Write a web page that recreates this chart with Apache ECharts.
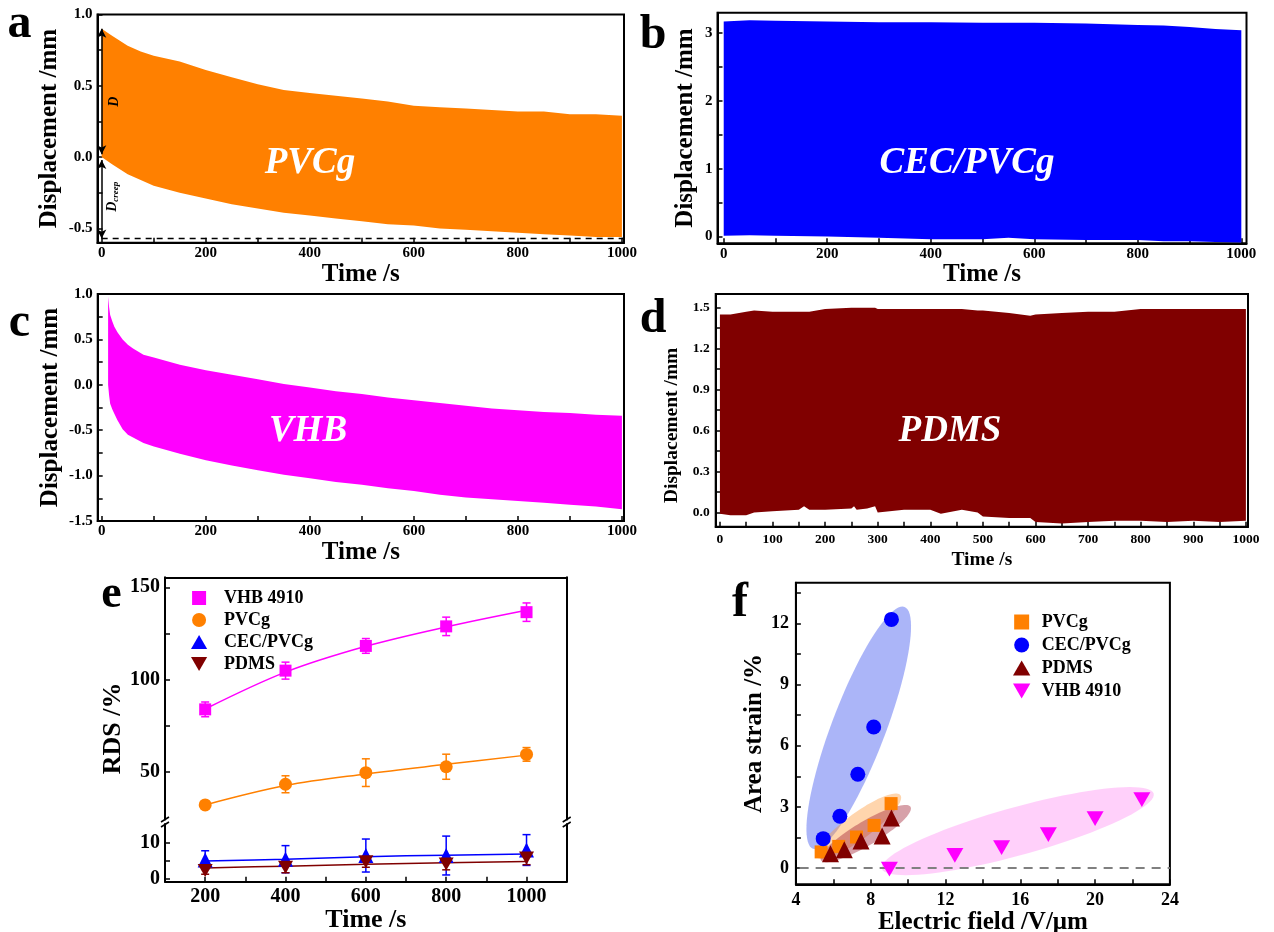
<!DOCTYPE html>
<html><head><meta charset="utf-8">
<script src="https://cdn.jsdelivr.net/npm/echarts@6/dist/echarts.min.js"></script>
<style>html,body{margin:0;padding:0;background:#fff}#main{width:1274px;height:932px}</style>
</head><body><div id="main"></div>
<script>
// ---------- Panel a: PVCg displacement envelope ----------
const tA  = [0, 20, 50, 75, 100, 150, 200, 250, 300, 350, 400, 450, 500, 550, 600, 650, 700, 750, 800, 850, 900, 950, 1000];
const upA = [0.90, 0.85, 0.78, 0.74, 0.71, 0.67, 0.61, 0.56, 0.51, 0.47, 0.45, 0.43, 0.41, 0.39, 0.36, 0.35, 0.34, 0.33, 0.32, 0.32, 0.30, 0.30, 0.29];
const loA = [0.00, -0.05, -0.12, -0.16, -0.20, -0.25, -0.29, -0.33, -0.36, -0.39, -0.41, -0.43, -0.45, -0.47, -0.48, -0.50, -0.51, -0.52, -0.53, -0.54, -0.55, -0.56, -0.56];
const creepLevelA = -0.57;
const dTopA = 0.9;

// ---------- Panel b: CEC/PVCg ----------
const tB  = [0, 50, 100, 200, 300, 400, 500, 550, 600, 700, 800, 850, 900, 950, 1000];
const upB = [3.17, 3.19, 3.18, 3.17, 3.16, 3.16, 3.15, 3.15, 3.15, 3.14, 3.12, 3.11, 3.09, 3.06, 3.04];
const loB = [0.01, 0.02, 0.01, 0.00, -0.02, -0.04, -0.04, -0.02, -0.04, -0.05, -0.05, -0.07, -0.07, -0.08, -0.09];

// ---------- Panel c: VHB ----------
const tC  = [12, 14, 16, 20, 24, 30, 40, 50, 60, 80, 100, 150, 200, 250, 300, 350, 400, 450, 500, 550, 600, 650, 700, 750, 800, 850, 900, 950, 1000];
const upC = [0.97, 0.85, 0.77, 0.70, 0.64, 0.58, 0.50, 0.44, 0.40, 0.33, 0.30, 0.22, 0.16, 0.11, 0.06, 0.01, -0.03, -0.07, -0.10, -0.14, -0.17, -0.20, -0.23, -0.26, -0.28, -0.30, -0.31, -0.33, -0.34];
const loC = [0.00, -0.12, -0.21, -0.27, -0.32, -0.39, -0.49, -0.55, -0.58, -0.64, -0.68, -0.76, -0.83, -0.89, -0.94, -0.99, -1.03, -1.07, -1.10, -1.14, -1.17, -1.21, -1.24, -1.26, -1.28, -1.30, -1.32, -1.34, -1.37];

// ---------- Panel d: PDMS ----------
const tD  = [0, 20, 50, 65, 100, 150, 160, 170, 200, 250, 255, 260, 280, 295, 300, 350, 400, 420, 460, 490, 500, 550, 590, 600, 650, 700, 750, 800, 850, 900, 950, 1000];
const upD = [1.45, 1.45, 1.47, 1.48, 1.47, 1.47, 1.47, 1.47, 1.49, 1.50, 1.50, 1.50, 1.50, 1.50, 1.49, 1.49, 1.49, 1.49, 1.49, 1.48, 1.48, 1.46, 1.44, 1.45, 1.46, 1.47, 1.47, 1.49, 1.49, 1.49, 1.49, 1.49];
const loD = [-0.01, -0.02, -0.02, 0.00, 0.01, 0.02, 0.045, 0.02, 0.02, 0.03, 0.045, 0.02, 0.03, 0.045, 0.00, 0.02, 0.02, -0.01, 0.02, 0.00, -0.03, -0.04, -0.04, -0.07, -0.08, -0.07, -0.06, -0.06, -0.07, -0.06, -0.07, -0.06];

// ---------- Panel e: RDS vs time ----------
const eTime   = [200, 400, 600, 800, 1000];
const eVHB    = [83.8, 104.8, 118.2, 128.8, 136.5];
const eVHBErr = [4.0, 4.6, 4.0, 5.0, 5.0];
const eVHBFit = [84, 104, 118, 128.5, 137.5];
const ePVCg    = [32, 43.2, 49.5, 52.7, 59.4];
const ePVCgErr = [1.0, 4.6, 7.5, 6.8, 3.7];
const ePVCgFit = [32, 42.5, 48.8, 54, 59];
const eCEC    = [5.2, 5.4, 6.4, 6.4, 7.9];
const eCECErr = [2.5, 3.7, 4.5, 5.3, 4.2];
const eCECFit = [4.9, 5.4, 6.1, 6.5, 6.8];
const ePDMS    = [2.3, 3.2, 4.7, 4.1, 5.7];
const ePDMSErr = [1.0, 1.5, 1.5, 1.6, 1.8];
const ePDMSFit = [3.0, 3.5, 4.0, 4.4, 4.8];

// ---------- Panel f: area strain vs electric field ----------
const fPVCgX = [5.35, 6.29, 7.24, 8.18, 9.09];
const fPVCgY = [0.79, 1.06, 1.52, 2.09, 3.16];
const fCECX  = [5.46, 6.35, 7.31, 8.16, 9.11];
const fCECY  = [1.44, 2.54, 4.60, 6.92, 12.2];
const fPDMSX = [5.85, 6.59, 7.48, 8.61, 9.11];
const fPDMSY = [0.70, 0.90, 1.33, 1.57, 2.45];
const fVHBX  = [9.0, 12.5, 15.0, 17.5, 20.0, 22.5];
const fVHBY  = [-0.05, 0.62, 1.0, 1.64, 2.42, 3.36];
// grouping ellipses: ends of the long axis in data units
const ellipseNames = ['CEC/PVCg', 'PVCg', 'PDMS', 'VHB 4910'];
const ellX1 = [4.91, 5.12, 5.34, 8.6];
const ellY1 = [0.95, 0.54, 0.38, -0.03];
const ellX2 = [9.81, 9.59, 10.13, 23.13];
const ellY2 = [12.81, 3.57, 3.0, 3.65];

// ---------- styles ----------
const FONT = '"Liberation Serif", "Times New Roman", serif';
const ORANGE = '#FF8000', BLUE = '#0000FF', MAGENTA = '#FF00FF', DARKRED = '#800000';
const DOWN = 'path://M0,0L10,0L5,8.66Z';
const UP = 'path://M5,0L10,8.66L0,8.66Z';
const SQUARE = 'path://M0,0L10,0L10,10L0,10Z';
const ellRadius = [27, 13, 12, 24];
const ellColor = ['rgba(80,100,240,0.48)', 'rgba(255,150,50,0.40)', 'rgba(160,30,50,0.42)', 'rgba(255,100,240,0.30)'];

function range(a, b, s) { const r = []; for (let v = a; v <= b + 1e-9; v += s) r.push(Math.round(v * 1000) / 1000); return r; }

function axis(o) {
  return {
    type: 'value', gridIndex: o.g, min: o.min, max: o.max, position: o.pos,
    name: o.name || '', nameLocation: 'middle', nameGap: o.gap || 0,
    nameTextStyle: { fontFamily: FONT, fontWeight: 'bold', fontSize: o.nfs || 25, color: '#000', padding: o.npad || 0 },
    axisLine: { show: true, onZero: false, lineStyle: { color: '#000', width: 2 } },
    axisTick: { show: !!o.ticks, inside: true, length: 5, customValues: o.ticks, lineStyle: { color: '#000', width: 1.5 } },
    axisLabel: { show: !!o.labels, customValues: o.labels, margin: o.margin || 4, fontFamily: FONT, fontWeight: 'bold', fontSize: o.fs || 15, color: '#000', formatter: o.fmt },
    splitLine: { show: false }
  };
}
const f1 = v => v.toFixed(1);
const f0 = v => String(Math.round(v));

function band(ai, t, up, lo, color) {
  return {
    type: 'custom', xAxisIndex: ai, yAxisIndex: ai, clip: true, silent: true, z: 2,
    data: [[t[0], lo[0]]],
    renderItem: (p, api) => {
      const pts = [];
      for (let i = 0; i < t.length; i++) pts.push(api.coord([t[i], up[i]]));
      for (let i = t.length - 1; i >= 0; i--) pts.push(api.coord([t[i], lo[i]]));
      return { type: 'polygon', shape: { points: pts }, style: { fill: color } };
    }
  };
}
function errBars(xi, yi, xs, ys, es, color) {
  return {
    type: 'custom', xAxisIndex: xi, yAxisIndex: yi, silent: true, z: 3,
    data: xs.map((x, i) => [x, ys[i], es[i]]),
    encode: { x: 0, y: 1 },
    renderItem: (p, api) => {
      const x = api.value(0), y = api.value(1), e = api.value(2);
      const a = api.coord([x, y + e]), b = api.coord([x, y - e]);
      const st = { stroke: color, lineWidth: 1.5 };
      return { type: 'group', children: [
        { type: 'line', shape: { x1: a[0], y1: a[1], x2: b[0], y2: b[1] }, style: st },
        { type: 'line', shape: { x1: a[0] - 4, y1: a[1], x2: a[0] + 4, y2: a[1] }, style: st },
        { type: 'line', shape: { x1: b[0] - 4, y1: b[1], x2: b[0] + 4, y2: b[1] }, style: st }
      ] };
    }
  };
}
function fitLine(xi, yi, xs, ys, color, name) {
  return { type: 'line', name: name, xAxisIndex: xi, yAxisIndex: yi, data: xs.map((x, i) => [x, ys[i]]),
    smooth: 0.35, symbol: 'none', lineStyle: { color: color, width: 1.5 }, z: 3, silent: true };
}
function scat(xi, yi, xs, ys, name, symbol, size, color) {
  return { type: 'scatter', name: name, xAxisIndex: xi, yAxisIndex: yi, data: xs.map((x, i) => [x, ys[i]]),
    symbol: symbol, symbolSize: size, symbolKeepAspect: true, itemStyle: { color: color, opacity: 1 }, z: 5 };
}

const grid = [
  { left: 97.5, top: 14.4, width: 526.5, height: 228.3, show: true, borderColor: '#000', borderWidth: 2 },
  { left: 717.5, top: 12.7, width: 529, height: 230.6, show: true, borderColor: '#000', borderWidth: 2 },
  { left: 97.7, top: 294, width: 526.3, height: 227, show: true, borderColor: '#000', borderWidth: 2 },
  { left: 715.7, top: 294, width: 532.3, height: 232.7, show: true, borderColor: '#000', borderWidth: 2 },
  { left: 165, top: 577.3, width: 401.7, height: 242.2 },
  { left: 165, top: 824, width: 401.7, height: 57.7 },
  { left: 795.9, top: 582.7, width: 374, height: 301.6, show: true, borderColor: '#000', borderWidth: 2 }
];
grid.forEach(g => { g.containLabel = false; g.outerBoundsMode = 'none'; });

const xAxis = [
  axis({ g: 0, min: -8, max: 1004, labels: range(0, 1000, 200), ticks: range(0, 1000, 100), fs: 15, margin: 3, fmt: f0, name: 'Time /s', gap: 14 }),
  axis({ g: 1, min: -12, max: 1010, labels: range(0, 1000, 200), ticks: range(0, 1000, 100), fs: 15, margin: 3, fmt: f0, name: 'Time /s', gap: 14 }),
  axis({ g: 2, min: -8, max: 1004, labels: range(0, 1000, 200), ticks: range(0, 1000, 100), fs: 15, margin: 3, fmt: f0, name: 'Time /s', gap: 14 }),
  axis({ g: 3, min: -8, max: 1004, labels: range(0, 1000, 100), ticks: range(0, 1000, 50), fs: 13.5, margin: 6, fmt: f0, name: 'Time /s', nfs: 19.5, gap: 23 }),
  axis({ g: 4, min: 100, max: 1100, pos: 'top' }),
  axis({ g: 5, min: 100, max: 1100, labels: range(200, 1000, 200), ticks: range(200, 1000, 100), fs: 20, margin: 5, fmt: f0, name: 'Time /s', nfs: 26, gap: 11 }),
  axis({ g: 6, min: 4, max: 24, labels: range(4, 24, 4), ticks: range(4, 24, 2), fs: 18, margin: 7, fmt: f0, name: 'Electric field /V/\u03bcm', gap: 24 })
];
const yAxis = [
  axis({ g: 0, min: -0.6, max: 1.0, labels: range(-0.5, 1.0, 0.5), ticks: range(-0.5, 1.0, 0.25), fs: 15, margin: 5, fmt: f1, name: 'Displacement /mm', gap: 35 }),
  axis({ g: 1, min: -0.1, max: 3.3, labels: range(0, 3, 1), ticks: range(0, 3, 0.5), fs: 15, margin: 5, fmt: f0, name: 'Displacement /mm', gap: 19 }),
  axis({ g: 2, min: -1.5, max: 1.0, labels: range(-1.5, 1.0, 0.5), ticks: range(-1.5, 1.0, 0.25), fs: 15, margin: 5, fmt: f1, name: 'Displacement /mm', gap: 35 }),
  axis({ g: 3, min: -0.104, max: 1.6, labels: range(0, 1.5, 0.3), ticks: range(0, 1.5, 0.15), fs: 13.5, margin: 6, fmt: f1, name: 'Displacement /mm', nfs: 19.5, gap: 34, npad: [0, 30, 0, 0] }),
  axis({ g: 4, min: 24.1, max: 155.4, labels: [50, 100, 150], ticks: [50, 75, 100, 125, 150], fs: 20, margin: 5, fmt: f0, name: 'RDS /%', nfs: 26, gap: 39, npad: [0, 60, 0, 0] }),
  axis({ g: 5, min: -0.74, max: 15, labels: [0, 10], ticks: [0, 5, 10], fs: 20, margin: 5, fmt: f0 }),
  axis({ g: 6, min: -0.8, max: 14, labels: range(0, 12, 3), ticks: range(0, 13.5, 1.5), fs: 18, margin: 7, fmt: f0, name: 'Area strain /%', gap: 24 }),
  axis({ g: 4, min: 24.1, max: 155.4, pos: 'right' }),
  axis({ g: 5, min: -0.74, max: 15, pos: 'right' })
];

const series = [
  band(0, tA, upA, loA, ORANGE),
  { type: 'line', name: 'creep-level', xAxisIndex: 0, yAxisIndex: 0, data: [[0, creepLevelA], [1004, creepLevelA]],
    symbol: 'none', silent: true, z: 4, lineStyle: { color: '#000', width: 1.5, type: [6, 5] },
    markLine: { silent: true, symbol: ['arrow', 'arrow'], symbolSize: [7, 9], label: { show: false },
      lineStyle: { color: '#000', width: 1.5, type: 'solid' },
      data: [[{ coord: [0, dTopA] }, { coord: [0, 0.02] }], [{ coord: [0, -0.02] }, { coord: [0, creepLevelA] }]] } },
  band(1, tB, upB, loB, BLUE),
  band(2, tC, upC, loC, MAGENTA),
  band(3, tD, upD, loD, DARKRED),

  errBars(4, 4, eTime, eVHB, eVHBErr, MAGENTA),
  fitLine(4, 4, eTime, eVHBFit, MAGENTA, 'fit VHB'),
  scat(4, 4, eTime, eVHB, 'VHB 4910', 'rect', 12, MAGENTA),
  errBars(4, 4, eTime, ePVCg, ePVCgErr, ORANGE),
  fitLine(4, 4, eTime, ePVCgFit, ORANGE, 'fit PVCg'),
  scat(4, 4, eTime, ePVCg, 'PVCg', 'circle', 13, ORANGE),
  errBars(5, 5, eTime, eCEC, eCECErr, BLUE),
  fitLine(5, 5, eTime, eCECFit, BLUE, 'fit CEC'),
  scat(5, 5, eTime, eCEC, 'CEC/PVCg', 'triangle', 15, BLUE),
  errBars(5, 5, eTime, ePDMS, ePDMSErr, DARKRED),
  fitLine(5, 5, eTime, ePDMSFit, DARKRED, 'fit PDMS'),
  scat(5, 5, eTime, ePDMS, 'PDMS', DOWN, 15, DARKRED),

  { type: 'custom', name: 'groups', xAxisIndex: 6, yAxisIndex: 6, silent: true, z: 2, clip: true,
    data: ellipseNames.map((n, i) => [(ellX1[i] + ellX2[i]) / 2, (ellY1[i] + ellY2[i]) / 2, i]),
    encode: { x: 0, y: 1 },
    renderItem: (p, api) => {
      const i = api.value(2);
      const a = api.coord([ellX1[i], ellY1[i]]), b = api.coord([ellX2[i], ellY2[i]]);
      const cx = (a[0] + b[0]) / 2, cy = (a[1] + b[1]) / 2;
      const R = Math.hypot(b[0] - a[0], b[1] - a[1]) / 2, r = ellRadius[i];
      const th = Math.atan2(b[1] - a[1], b[0] - a[0]);
      const pts = [];
      for (let k = 0; k < 90; k++) {
        const ph = k / 90 * 2 * Math.PI, u = R * Math.cos(ph), v = r * Math.sin(ph);
        pts.push([cx + u * Math.cos(th) - v * Math.sin(th), cy + u * Math.sin(th) + v * Math.cos(th)]);
      }
      return { type: 'polygon', shape: { points: pts }, style: { fill: ellColor[i] } };
    } },
  { type: 'line', name: 'zero', xAxisIndex: 6, yAxisIndex: 6, data: [[4.2, 0], [24, 0]], symbol: 'none', silent: true, z: 3,
    lineStyle: { color: '#808080', width: 2, type: [9, 7] } },
  scat(6, 6, fPVCgX, fPVCgY, 'PVCg', 'rect', 13, ORANGE),
  scat(6, 6, fCECX, fCECY, 'CEC/PVCg', 'circle', 15, BLUE),
  scat(6, 6, fPDMSX, fPDMSY, 'PDMS', 'triangle', 17, DARKRED),
  scat(6, 6, fVHBX, fVHBY, 'VHB 4910', DOWN, 17, MAGENTA)
];

const legTxt = { fontFamily: FONT, fontWeight: 'bold', fontSize: 18, color: '#000' };
const legend = [
  { orient: 'vertical', left: 191, top: 589, padding: 0, itemWidth: 40, itemHeight: 14, itemGap: 4, selectedMode: false, textStyle: legTxt,
    data: [{ name: 'VHB 4910', icon: SQUARE }, { name: 'PVCg', icon: 'circle' }, { name: 'CEC/PVCg', icon: UP }, { name: 'PDMS', icon: DOWN }] },
  { orient: 'vertical', left: 1013, top: 613, padding: 0, itemWidth: 30, itemHeight: 15, itemGap: 5, selectedMode: false, textStyle: legTxt,
    data: [{ name: 'PVCg', icon: SQUARE }, { name: 'CEC/PVCg', icon: 'circle' }, { name: 'PDMS', icon: UP }, { name: 'VHB 4910', icon: DOWN }] }
];

function txt(s, x, y, font, fill, rot, extra) {
  const el = { type: 'text', x: x, y: y, z: 100, rotation: rot || 0,
    style: Object.assign({ text: s, font: font, fill: fill || '#000', align: 'center', verticalAlign: 'middle', textAlign: 'center', textVerticalAlign: 'middle' }, extra || {}) };
  return el;
}
const LET = 'bold 48px "Liberation Serif"';
const BIG = 'italic bold 37px "Liberation Serif"';
const graphic = [
  txt('a', 19.5, 25, LET), txt('b', 653, 36, LET), txt('c', 19.5, 324, LET),
  txt('d', 653, 320, LET), txt('e', 111.5, 595, 'bold 46px "Liberation Serif"'), txt('f', 740, 604, LET),
  txt('PVCg', 310, 163.5, BIG, '#fff'), txt('CEC/PVCg', 967, 163.5, BIG, '#fff'),
  txt('VHB', 308, 431, BIG, '#fff'), txt('PDMS', 950, 431, BIG, '#fff'),
  txt('D', 114.5, 101.7, 'italic bold 14px "Liberation Serif"', '#000', Math.PI / 2),
  txt('{d|D}{s|creep}', 112.5, 196.7, 'italic bold 14px "Liberation Serif"', '#000', Math.PI / 2,
    { rich: { d: { font: 'italic bold 14px "Liberation Serif"', fill: '#000' }, s: { font: 'italic bold 9px "Liberation Serif"', fill: '#000', padding: [7, 0, 0, 0] } } }),
  // axis break marks (panel e)
  { type: 'line', z: 100, shape: { x1: 161, y1: 822, x2: 169, y2: 817 }, style: { stroke: '#000', lineWidth: 1.5 } },
  { type: 'line', z: 100, shape: { x1: 161, y1: 827, x2: 169, y2: 822 }, style: { stroke: '#000', lineWidth: 1.5 } },
  { type: 'line', z: 100, shape: { x1: 562.7, y1: 822, x2: 570.7, y2: 817 }, style: { stroke: '#000', lineWidth: 1.5 } },
  { type: 'line', z: 100, shape: { x1: 562.7, y1: 827, x2: 570.7, y2: 822 }, style: { stroke: '#000', lineWidth: 1.5 } }
];

const chart = echarts.init(document.getElementById('main'), null, { renderer: 'canvas' });
chart.setOption({ animation: false, backgroundColor: '#fff', grid, xAxis, yAxis, series, legend, graphic, tooltip: { show: false } });
</script></body></html>
